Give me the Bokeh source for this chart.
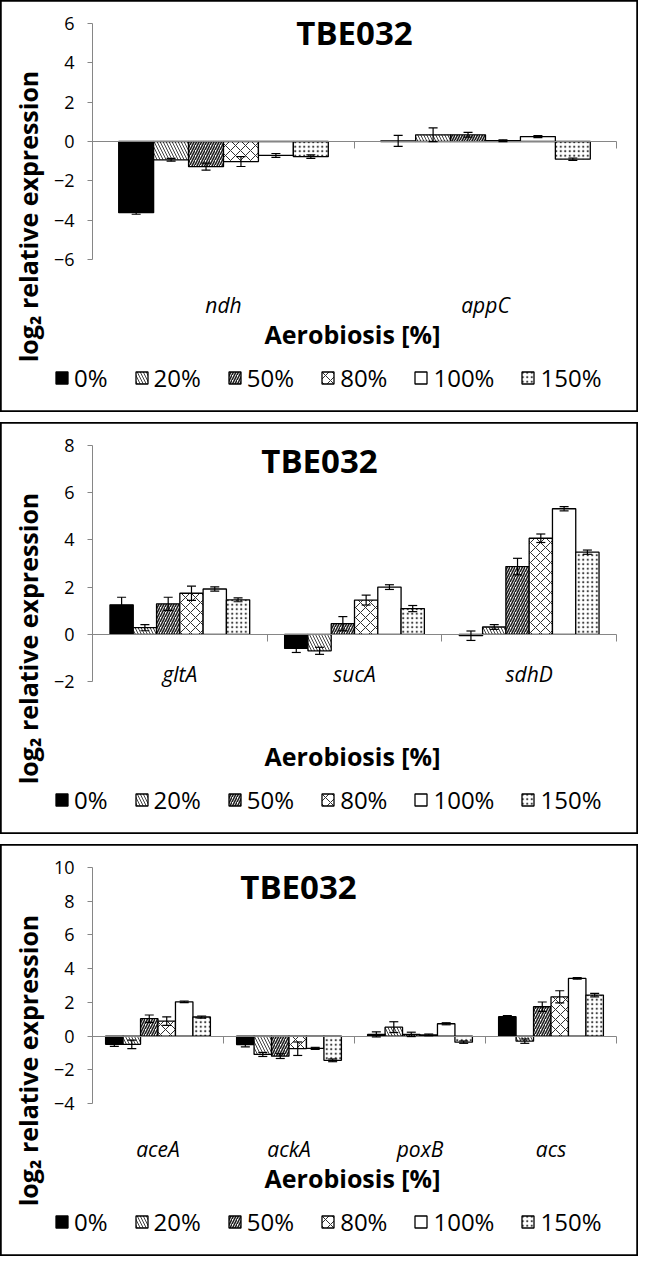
import math
from bokeh.plotting import figure
from bokeh.models import (Range1d, FixedTicker, LinearAxis, Label, Legend, LegendItem,
                          Whisker, ColumnDataSource, TeeHead)
from bokeh.layouts import column
from bokeh.embed import file_html
from bokeh.resources import INLINE

# ---------------- data ----------------
levels = ["0%", "20%", "50%", "80%", "100%", "150%"]

genes1 = ["ndh", "appC"]
mean1 = [[-3.62, -0.93, -1.28, -1.02, -0.71, -0.77],
         [0.03, 0.34, 0.34, 0.04, 0.25, -0.90]]
err1 = [[0.08, 0.07, 0.18, 0.25, 0.10, 0.09],
        [0.28, 0.35, 0.12, 0.05, 0.05, 0.06]]
yticks1 = [-6, -4, -2, 0, 2, 4, 6]

genes2 = ["gltA", "sucA", "sdhD"]
mean2 = [[1.25, 0.28, 1.29, 1.74, 1.92, 1.46],
         [-0.60, -0.70, 0.45, 1.45, 2.00, 1.09],
         [-0.06, 0.31, 2.87, 4.07, 5.32, 3.48]]
err2 = [[0.32, 0.13, 0.28, 0.30, 0.09, 0.08],
        [0.17, 0.15, 0.30, 0.21, 0.10, 0.13],
        [0.20, 0.10, 0.35, 0.18, 0.09, 0.09]]
yticks2 = [-2, 0, 2, 4, 6, 8]

genes3 = ["aceA", "ackA", "poxB", "acs"]
mean3 = [[-0.49, -0.49, 1.03, 0.89, 2.03, 1.13],
         [-0.50, -1.09, -1.19, -0.75, -0.73, -1.44],
         [0.10, 0.53, 0.10, 0.07, 0.73, -0.36],
         [1.15, -0.30, 1.74, 2.33, 3.42, 2.43]]
err3 = [[0.12, 0.25, 0.22, 0.25, 0.05, 0.06],
        [0.14, 0.12, 0.14, 0.40, 0.06, 0.08],
        [0.15, 0.32, 0.13, 0.05, 0.06, 0.07],
        [0.07, 0.13, 0.28, 0.36, 0.05, 0.10]]
yticks3 = [-4, -2, 0, 2, 4, 6, 8, 10]

chart_title = "TBE032"
y_title = "log\u2082 relative expression"
x_title = "Aerobiosis [%]"

# ---------------- layout / styles ----------------
FONT = "Open Sans"
GRAY = "#868686"
W, H = 638, 412            # whole panel (frame covers the full panel)
PL, PW, PT, PH = 92, 524, 23, 236   # plot area inside the panel, in px

bar_styles = {
    "0%": dict(fill_color="black"),
    "20%": dict(fill_color="white", hatch_pattern="\\", hatch_scale=6, hatch_weight=1, hatch_color="#404040"),
    "50%": dict(fill_color="white", hatch_pattern="/", hatch_scale=5, hatch_weight=1.6, hatch_color="#202020"),
    "80%": dict(fill_color="white", hatch_pattern="x", hatch_scale=10, hatch_weight=1, hatch_color="#303030"),
    "100%": dict(fill_color="white"),
    "150%": dict(fill_color="white", hatch_pattern=".", hatch_scale=4.5, hatch_weight=1.1, hatch_color="#404040"),
}


def make_panel(genes, means, errs, yticks, title_xy, cat_on_zero):
    n = len(genes)
    ymin, ymax = yticks[0], yticks[-1]
    xppu = PW / n
    yppu = PH / (ymax - ymin)
    xr = Range1d(-PL / xppu, n + (W - PL - PW) / xppu)
    yr = Range1d(ymin - (H - PT - PH) / yppu, ymax + PT / yppu)
    p = figure(width=W, height=H, x_range=xr, y_range=yr,
               output_backend="svg", toolbar_location=None,
               min_border=0, min_border_left=0, min_border_right=0,
               min_border_top=0, min_border_bottom=0)
    p.outline_line_color = "black"
    p.outline_line_width = 2.5
    p.xgrid.visible = False
    p.ygrid.visible = False

    # y axis
    ya = p.yaxis[0]
    ya.fixed_location = 0
    ya.bounds = (ymin, ymax)
    ya.ticker = FixedTicker(ticks=yticks, minor_ticks=[])
    ya.axis_line_color = GRAY
    ya.major_tick_line_color = GRAY
    ya.major_tick_out = 5
    ya.major_tick_in = 0
    ya.minor_tick_line_color = None
    ya.major_label_text_font = FONT
    ya.major_label_text_font_size = "18px"
    ya.major_label_text_color = "black"
    ya.major_label_standoff = 13

    # category label axis
    centers = [i + 0.5 for i in range(n)]
    xa = p.xaxis[0]
    xa.bounds = (0, n)
    xa.ticker = FixedTicker(ticks=centers, minor_ticks=[])
    xa.major_label_overrides = {c: g for c, g in zip(centers, genes)}
    xa.axis_line_color = None
    xa.major_tick_line_color = None
    xa.minor_tick_line_color = None
    xa.major_label_text_font = FONT
    xa.major_label_text_font_style = "italic"
    xa.major_label_text_font_size = "21px"
    xa.major_label_text_color = "black"
    if cat_on_zero:
        xa.fixed_location = 0
        xa.major_label_standoff = 20
    else:
        xa.fixed_location = ymin
        xa.major_label_standoff = 25

    # zero line with category separators
    za = LinearAxis(fixed_location=0, bounds=(0, n),
                    ticker=FixedTicker(ticks=[], minor_ticks=list(range(n + 1))),
                    axis_line_color=GRAY, minor_tick_line_color=GRAY, minor_tick_out=7, minor_tick_in=0,
                    major_tick_line_color=None, major_label_text_font_size="0px")
    p.add_layout(za, "below")

    w = 0.8 / len(levels)
    items = []
    for j, lvl in enumerate(levels):
        xs = [i + 0.1 + (j + 0.5) * w for i in range(n)]
        tops = [means[i][j] for i in range(n)]
        es = [errs[i][j] for i in range(n)]
        src = ColumnDataSource(dict(x=xs, top=tops,
                                    upper=[t + e for t, e in zip(tops, es)],
                                    lower=[t - e for t, e in zip(tops, es)]))
        r = p.vbar(x="x", top="top", bottom=0, width=w, source=src,
                   line_color="black", line_width=1.3, **bar_styles[lvl])
        wh = Whisker(source=src, base="x", upper="upper", lower="lower",
                     line_color="black", line_width=1.2, level="annotation",
                     upper_head=TeeHead(size=9, line_color="black", line_width=1.2),
                     lower_head=TeeHead(size=9, line_color="black", line_width=1.2))
        p.add_layout(wh)
        items.append(LegendItem(label=lvl, renderers=[r]))

    legend = Legend(items=items, orientation="horizontal", location=(54, 18),
                    glyph_width=15, glyph_height=15, label_standoff=5, spacing=26,
                    label_text_font=FONT, label_text_font_size="24px", label_text_color="black",
                    border_line_color=None, background_fill_alpha=0, padding=0, margin=0)
    p.add_layout(legend, "center")

    tx, ty = title_xy
    p.add_layout(Label(x=tx, y=H - ty, x_units="screen", y_units="screen", text=chart_title,
                       text_font=FONT, text_font_style="bold", text_font_size="33px", text_color="black",
                       text_align="center", text_baseline="middle"))
    p.add_layout(Label(x=27, y=H - 216, x_units="screen", y_units="screen", text=y_title, angle=math.pi / 2,
                       text_font=FONT, text_font_style="bold", text_font_size="25px", text_color="black",
                       text_align="center", text_baseline="middle"))
    p.add_layout(Label(x=352, y=H - 333, x_units="screen", y_units="screen", text=x_title,
                       text_font=FONT, text_font_style="bold", text_font_size="25px", text_color="black",
                       text_align="center", text_baseline="middle"))
    return p


p1 = make_panel(genes1, mean1, err1, yticks1, (354, 32), False)
p2 = make_panel(genes2, mean2, err2, yticks2, (319, 38), True)
p3 = make_panel(genes3, mean3, err3, yticks3, (298, 42), False)

layout = column(p1, p2, p3, spacing=10)
open("out.html", "w").write(file_html(layout, INLINE))
